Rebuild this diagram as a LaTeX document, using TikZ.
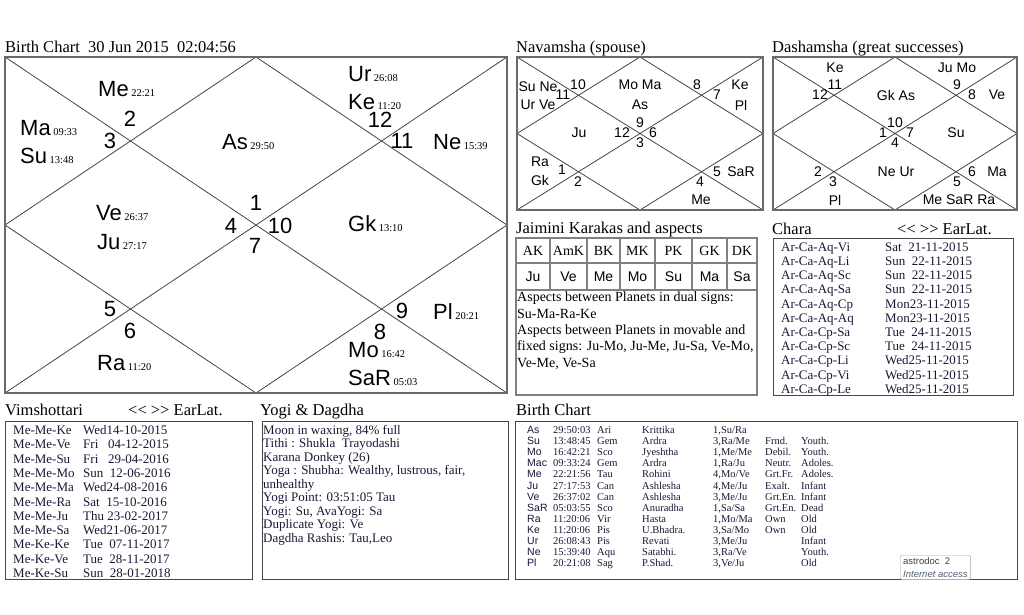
\documentclass[tikz,border=0pt]{standalone}
\usepackage{fontspec}
\setmainfont{Liberation Serif}
\setsansfont{Liberation Sans}
\definecolor{framec}{RGB}{105,105,105}
\definecolor{linec}{RGB}{70,70,70}
\definecolor{listc}{RGB}{25,25,55}
\definecolor{tipc}{RGB}{80,95,115}
\newcommand\plfont{\sffamily\fontsize{22}{22}\selectfont}
\newcommand\degfont{\rmfamily\fontsize{10.5}{10.5}\selectfont}
\newcommand\vgfont{\sffamily\fontsize{14}{14}\selectfont}
\newcommand\ttlfont{\rmfamily\fontsize{16.5}{16.5}\selectfont}
\newcommand\lstfont{\rmfamily\fontsize{13}{13}\selectfont}
\newcommand\tabfont{\rmfamily\fontsize{10.5}{10.5}\selectfont}
\newcommand\pdeg[2]{{\plfont #1}\kern2.5pt{\degfont #2}}
\tikzset{
  ttl/.style={anchor=base west,inner sep=0,font=\ttlfont},
  num/.style={inner sep=0,font=\plfont},
  pla/.style={anchor=base west,inner sep=0},
  vg/.style={inner sep=0,font=\vgfont},
  lst/.style={anchor=base west,inner sep=0,font=\lstfont,text=listc},
  tab/.style={anchor=base west,inner sep=0,font=\tabfont,text=listc},
  box/.style={draw=linec,line width=1},
  cell/.style={draw=gray,line width=1.2}
}
\begin{document}
\begin{tikzpicture}[x=1pt,y=-1pt]
\useasboundingbox[fill=white] (0,0) rectangle (1024,614);
% square charts
\foreach \xa/\ya/\xb/\yb in {5/57/507/393,517/57/763/210,773/57/1017/210}{
  \draw[linec,line width=0.8] (\xa,\ya) -- (\xb,\yb) (\xa,\yb) -- (\xb,\ya)
    ({(\xa+\xb)/2},\ya) -- (\xb,{(\ya+\yb)/2}) -- ({(\xa+\xb)/2},\yb) -- (\xa,{(\ya+\yb)/2}) -- cycle;
  \draw[framec,line width=2.5] (\xa,\ya) rectangle (\xb,\yb);
}
\node[ttl] (t1) at (5,52) {Birth Chart\ \ 30 Jun 2015\ \ 02:04:56};
\node[ttl] (t2) at (516,52) {Navamsha (spouse)};
\node[ttl] (t3) at (772,52) {Dashamsha (great successes)};
% birth chart
\foreach \x/\y/\p/\d [count=\k] in {98/96/Me/22:21,20/135/Ma/09:33,20/163/Su/13:48,222/149/As/29:50,
  348/81/Ur/26:08,348/109/Ke/11:20,433/149/Ne/15:39,96/220/Ve/26:37,97/249/Ju/27:17,
  348/231/Gk/13:10,433/319/Pl/20:21,97/370/Ra/11:20,348/357/Mo/16:42,348/385/SaR/05:03}
  \node[pla] (p\k) at (\x,\y) {\pdeg{\p}{\d}};
\foreach \x/\y [count=\k] in {256/203,130/119,110/141,231/226,110/309,130/331,
  255/246,380/332,402/311,280/226,402/141,380/120}
  \node[num] (h\k) at (\x,\y) {\k};
% navamsha
\foreach \x/\y/\t [count=\k] in {538/87/Su Ne,538/105/Ur Ve,578/85/10,563/95/11,640/85/Mo Ma,
  640/105/As,697/85/8,717/95/7,740/85/Ke,741/105/Pl,579/133/Ju,640/123/9,622/133/12,
  653/133/6,640/143/3,540/162/Ra,540/180/Gk,562/170/1,578/182/2,717/172/5,741/172/SaR,
  700/182/4,701/200/Me}
  \node[vg] (n\k) at (\x,\y) {\t};
% dashamsha
\foreach \x/\y/\t [count=\k] in {835/68/Ke,957/68/Ju Mo,835/85/11,820/95/12,896/95/Gk As,
  957/85/9,972/95/8,997/95/Ve,895/123/10,883/133/1,910/133/7,895/143/4,956/133/Su,
  818/172/2,833/182/3,896/172/Ne Ur,972/172/6,997/172/Ma,957/182/5,835/200/Pl,
  959/200/Me SaR Ra}
  \node[vg] (d\k) at (\x,\y) {\t};
% jaimini karakas
\node[ttl] (t4) at (516,233) {Jaimini Karakas and aspects};
\draw[cell] (516,238) rectangle (757,395) (516,263) -- (757,263) (516,290) -- (757,290);
\foreach \x in {550,587,620,655,692,727} \draw[cell] (\x,238) -- (\x,290);
\foreach \x/\h/\p [count=\k] in {533/AK/Ju,568.5/AmK/Ve,603.5/BK/Me,637.5/MK/Mo,
  673.5/PK/Su,709.5/GK/Ma,742/DK/Sa}{
  \node[inner sep=0,font=\rmfamily\fontsize{14}{14}\selectfont] (k\k) at (\x,251) {\h};
  \node[inner sep=0,font=\vgfont] (j\k) at (\x,277) {\p};
}
\foreach \t [count=\k] in {{Aspects between Planets in dual signs:},{Su-Ma-Ra-Ke},
  {Aspects between Planets in movable and},{fixed signs: Ju-Mo, Ju-Me, Ju-Sa, Ve-Mo,},{Ve-Me, Ve-Sa}}
  \node[anchor=base west,inner sep=0,font=\rmfamily\fontsize{14}{14}\selectfont] (a\k) at (517,{285.5+16.3*\k}) {\t};
% chara
\node[ttl] (t5) at (772,234) {Chara};
\node[ttl] (t6) at (897,234) {<{}< >{}> EarLat.};
\draw[box] (773,238) rectangle (1013,395);
\foreach \a/\b [count=\k] in {Ar-Ca-Aq-Vi/Sat\ \ 21-11-2015,Ar-Ca-Aq-Li/Sun\ \ 22-11-2015,
  Ar-Ca-Aq-Sc/Sun\ \ 22-11-2015,Ar-Ca-Aq-Sa/Sun\ \ 22-11-2015,Ar-Ca-Aq-Cp/Mon23-11-2015,
  Ar-Ca-Aq-Aq/Mon23-11-2015,Ar-Ca-Cp-Sa/Tue\ \ 24-11-2015,Ar-Ca-Cp-Sc/Tue\ \ 24-11-2015,
  Ar-Ca-Cp-Li/Wed25-11-2015,Ar-Ca-Cp-Vi/Wed25-11-2015,Ar-Ca-Cp-Le/Wed25-11-2015}{
  \node[lst] (c\k) at (781,{237+14.2*\k}) {\a};
  \node[lst] (cd\k) at (885,{237+14.2*\k}) {\b};
}
% vimshottari
\node[ttl] (t7) at (5,415) {Vimshottari};
\node[ttl] (t8) at (128,415) {<{}< >{}> EarLat.};
\draw[box] (5,421) rectangle (252,579);
\foreach \a/\b [count=\k] in {Me-Me-Ke/Wed14-10-2015,Me-Me-Ve/Fri\ \ \ 04-12-2015,
  Me-Me-Su/Fri\ \ \ 29-04-2016,Me-Me-Mo/Sun\ \ 12-06-2016,Me-Me-Ma/Wed24-08-2016,
  Me-Me-Ra/Sat\ \ 15-10-2016,Me-Me-Ju/Thu\ 23-02-2017,Me-Me-Sa/Wed21-06-2017,
  Me-Ke-Ke/Tue\ \ 07-11-2017,Me-Ke-Ve/Tue\ \ 28-11-2017,Me-Ke-Su/Sun\ \ 28-01-2018}{
  \node[lst] (v\k) at (13,{420.2+14.3*\k}) {\a};
  \node[lst] (vd\k) at (83,{420.2+14.3*\k}) {\b};
}
% yogi and dagdha
\node[ttl] (t9) at (260,415) {Yogi \& Dagdha};
\draw[box] (262,421) rectangle (508,579);
\foreach \t [count=\k] in {{Moon in waxing, 84\% full},{Tithi : Shukla\ \ Trayodashi},{Karana Donkey (26)},
  {Yoga : Shubha: Wealthy, lustrous, fair,},{unhealthy},{Yogi Point: 03:51:05 Tau},
  {Yogi: Su, AvaYogi: Sa},{Duplicate Yogi: Ve},{Dagdha Rashis: Tau,Leo}}
  \node[lst] (y\k) at (263,{420.5+13.5*\k}) {\t};
% birth chart table
\node[ttl] (t10) at (516,415) {Birth Chart};
\draw[box] (515,421) rectangle (1017,579);
\foreach \p/\g/\s/\n/\l/\r/\e [count=\k] in {As/29:50:03/Ari/Krittika/{1,Su/Ra}/{}/{},
  Su/13:48:45/Gem/Ardra/{3,Ra/Me}/Frnd./Youth.,
  Mo/16:42:21/Sco/Jyeshtha/{1,Me/Me}/Debil./Youth.,
  Mac/09:33:24/Gem/Ardra/{1,Ra/Ju}/Neutr./Adoles.,
  Me/22:21:56/Tau/Rohini/{4,Mo/Ve}/Grt.Fr./Adoles.,
  Ju/27:17:53/Can/Ashlesha/{4,Me/Ju}/Exalt./Infant,
  Ve/26:37:02/Can/Ashlesha/{3,Me/Ju}/Grt.En./Infant,
  SaR/05:03:55/Sco/Anuradha/{1,Sa/Sa}/Grt.En./Dead,
  Ra/11:20:06/Vir/Hasta/{1,Mo/Ma}/Own/Old,
  Ke/11:20:06/Pis/U.Bhadra./{3,Sa/Mo}/Own/Old,
  Ur/26:08:43/Pis/Revati/{3,Me/Ju}/{}/Infant,
  Ne/15:39:40/Aqu/Satabhi./{3,Ra/Ve}/{}/Youth.,
  Pl/20:21:08/Sag/P.Shad./{3,Ve/Ju}/{}/Old}{
  \node[tab,font=\sffamily\fontsize{10.5}{10.5}\selectfont] (b\k) at (527,{422.4+11.1*\k}) {\p};
  \node[tab] (bg\k) at (553,{422.4+11.1*\k}) {\g};
  \node[tab] (bs\k) at (597,{422.4+11.1*\k}) {\s};
  \node[tab] (bn\k) at (642,{422.4+11.1*\k}) {\n};
  \node[tab] (bl\k) at (713,{422.4+11.1*\k}) {\l};
  \node[tab] (br\k) at (765,{422.4+11.1*\k}) {\r};
  \node[tab] (be\k) at (801,{422.4+11.1*\k}) {\e};
}
% tooltip
\node[draw=gray!70,fill=white,rounded corners=2pt,inner xsep=3pt,inner ysep=2.5pt,align=left,anchor=north west,
  text=black!75,font=\sffamily\fontsize{9.5}{12.5}\selectfont] (tip) at (900,555)
  {astrodoc\ \ 2\\{\itshape\color{tipc}Internet access}};
\end{tikzpicture}
\end{document}
